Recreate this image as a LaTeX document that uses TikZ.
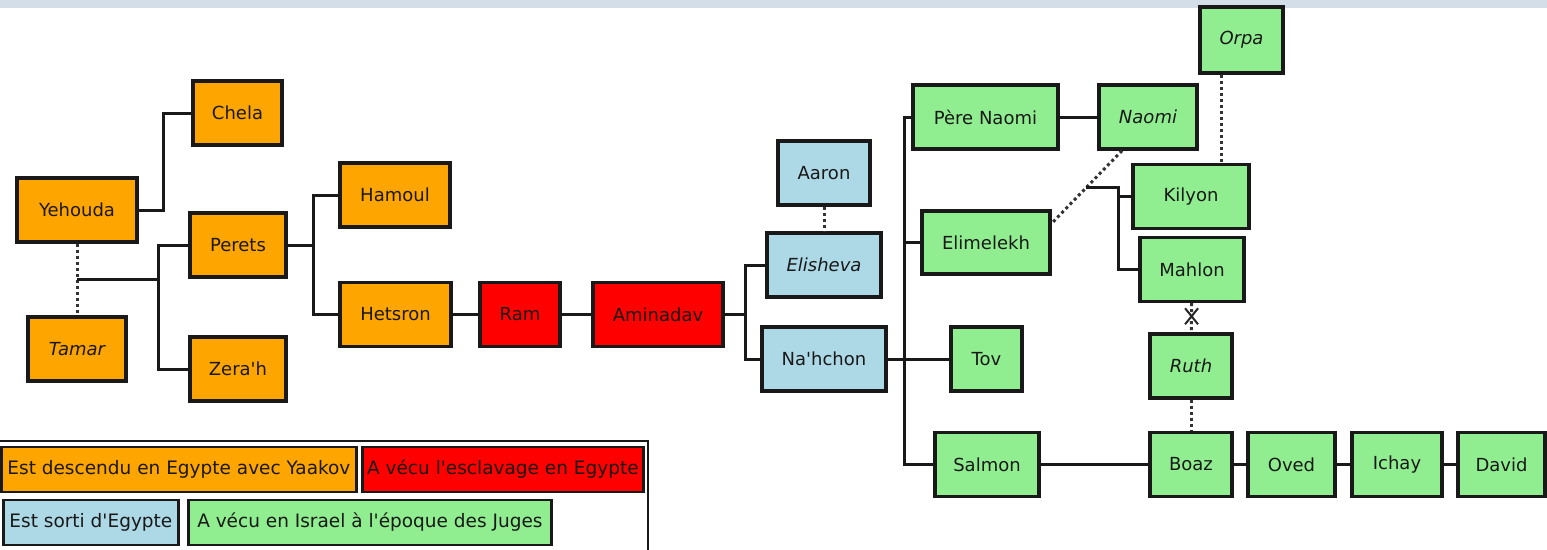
\documentclass[tikz,border=0pt]{standalone}
\usepackage{fontspec}
\setmainfont{DejaVu Sans}
\usetikzlibrary{positioning,calc,shapes.misc}
\definecolor{egypte}{HTML}{FFA500}
\definecolor{esclave}{HTML}{FF0000}
\definecolor{sorti}{HTML}{ADD8E6}
\definecolor{juges}{HTML}{90EE90}
\definecolor{bande}{HTML}{D3DEE8}
\newcommand{\apos}{\textquotesingle}
\tikzset{
  pers/.style={draw=black!90, line width=3.2pt, minimum height=64pt, inner sep=0pt,
    font=\fontsize{18}{21}\selectfont, text=black!90},
  eg/.style={pers, fill=egypte},
  es/.style={pers, fill=esclave},
  so/.style={pers, fill=sorti},
  ju/.style={pers, fill=juges},
  leg/.style={draw=black!90, line width=2.8pt, minimum height=45pt, inner sep=0pt,
    font=\fontsize{18.5}{21}\selectfont, text=black!90, anchor=west},
  lien/.style={line width=3pt, black!90},
  union/.style={line width=3pt, black!80, dash pattern=on 3pt off 3pt},
}
\begin{document}
\begin{tikzpicture}[x=1pt,y=-1pt]
\useasboundingbox (0,0) rectangle (1547,549);
\fill[bande] (0,0) rectangle (1547,8);
% Yehouda et ses fils
\node[eg, minimum width=120pt] (Ye) at (77,210) {Yehouda};
\node[eg, minimum width=89pt] (Ch) at (237.5,113) {Chela};
\node[eg, minimum width=98pt] (Ta) at (77,349) {\itshape Tamar};
\node[eg, minimum width=96pt] (Pe) at (238,245) {Perets};
\node[eg, minimum width=96pt] (Ze) at (238,369) {Zera\apos h};
\node[eg, minimum width=110pt] (Ha) at (395,195) {Hamoul};
\node[eg, minimum width=111pt] (He) at (395.5,314.5) {Hetsron};
% esclavage
\node[es, minimum width=80pt] (Ra) at (520,314.5) {Ram};
\node[es, minimum width=130pt] (Am) at (658,314.5) {Aminadav};
% sortie d'Egypte
\node[so, minimum width=92pt] (Aa) at (824,173) {Aaron};
\node[so, minimum width=114pt] (El) at (824,265) {\itshape Elisheva};
\node[so, minimum width=124pt] (Na) at (824,359) {Na\apos hchon};
% juges
\node[ju, minimum width=145pt] (PN) at (985.5,117) {Père Naomi};
\node[ju, minimum width=98pt] (No) at (1148,117) {\itshape Naomi};
\node[ju, minimum width=83pt, minimum height=66pt] (Or) at (1241.5,40) {\itshape Orpa};
\node[ju, minimum width=128pt, minimum height=63pt] (Em) at (986,242.5) {Elimelekh};
\node[ju, minimum width=116pt] (Ki) at (1191,196.5) {Kilyon};
\node[ju, minimum width=104pt] (Ma) at (1192,269.5) {Mahlon};
\node[ju, minimum width=71pt] (To) at (986.5,359) {Tov};
\node[ju, minimum width=82pt] (Ru) at (1191,366) {\itshape Ruth};
\node[ju, minimum width=104pt] (Sa) at (987,464.5) {Salmon};
\node[ju, minimum width=82pt] (Bo) at (1191,464.5) {Boaz};
\node[ju, minimum width=87pt] (Ov) at (1291.5,464.5) {Oved};
\node[ju, minimum width=90pt] (Ic) at (1397,464.5) {Ichay};
\node[ju, minimum width=87pt] (Da) at (1501.5,464.5) {David};
% points de jonction
\coordinate (YT) at (77,279);
\coordinate (f1) at (158,279);
\coordinate (f2) at (313,245);
\coordinate (f3) at (745,314.5);
\coordinate (f4) at (904,359);
\coordinate (NoE) at ([xshift=-26pt]No.south);
\coordinate (EmN) at ([yshift=-14pt]Em.north east);
\coordinate (NE) at ($(NoE)!0.51!(EmN)$);
\coordinate (f5) at ([xshift=32pt]NE);
\coordinate (div) at ($(Ma.south)!0.45!(Ru.north)$);
% liens
\draw[lien] (Ye.east) -- ++(25,0) |- (Ch.west);
\draw[union] (Ye) -- (Ta);
\draw[lien] (YT) -- (f1) (Pe.west) -| (f1) (Ze.west) -| (f1);
\draw[lien] (Pe.east) -- (f2) (Ha.west) -| (f2) (He.west) -| (f2);
\path[lien] (He) edge (Ra) (Ra) edge (Am);
\draw[lien] (Am.east) -- (f3) (El.west) -| (f3) (Na.west) -| (f3);
\draw[union] (Aa) -- (El);
\draw[lien] (Na) -- (To) (PN.west) -| (f4) (Em.west) -| (f4) (Sa.west) -| (f4);
\draw[lien] (PN) -- (No);
\draw[union] (NoE) -- (EmN);
\draw[lien] (NE) -- (f5) |- (Ma.west) (Ki.west) -| (f5);
\draw[union] ([xshift=-20pt]Or.south) -- ([xshift=-20pt]Or.south |- Ki.north);
\draw[union] (Ma) -- (Ru);
\node[cross out, draw=black!85, line width=2pt, minimum width=11pt, minimum height=14pt, inner sep=0pt] (X) at (div) {};
\draw[union] (Ru) -- (Bo);
\path[lien] (Sa) edge (Bo) (Bo) edge (Ov) (Ov) edge (Ic) (Ic) edge (Da);
% legende
\draw[lien, line width=2.6pt] (-5,441) -| (648,560);
\node[leg, fill=egypte, minimum width=355pt] (L1) at (0,469.5) {Est descendu en Egypte avec Yaakov};
\node[leg, fill=esclave, minimum width=281pt] (L2) at (361,469.5) {A vécu l\apos esclavage en Egypte};
\node[leg, fill=sorti, minimum width=175pt] (L3) at (2,522.5) {Est sorti d\apos Egypte};
\node[leg, fill=juges, minimum width=363pt] (L4) at (187,522.5) {A vécu en Israel à l\apos époque des Juges};
\end{tikzpicture}
\end{document}
